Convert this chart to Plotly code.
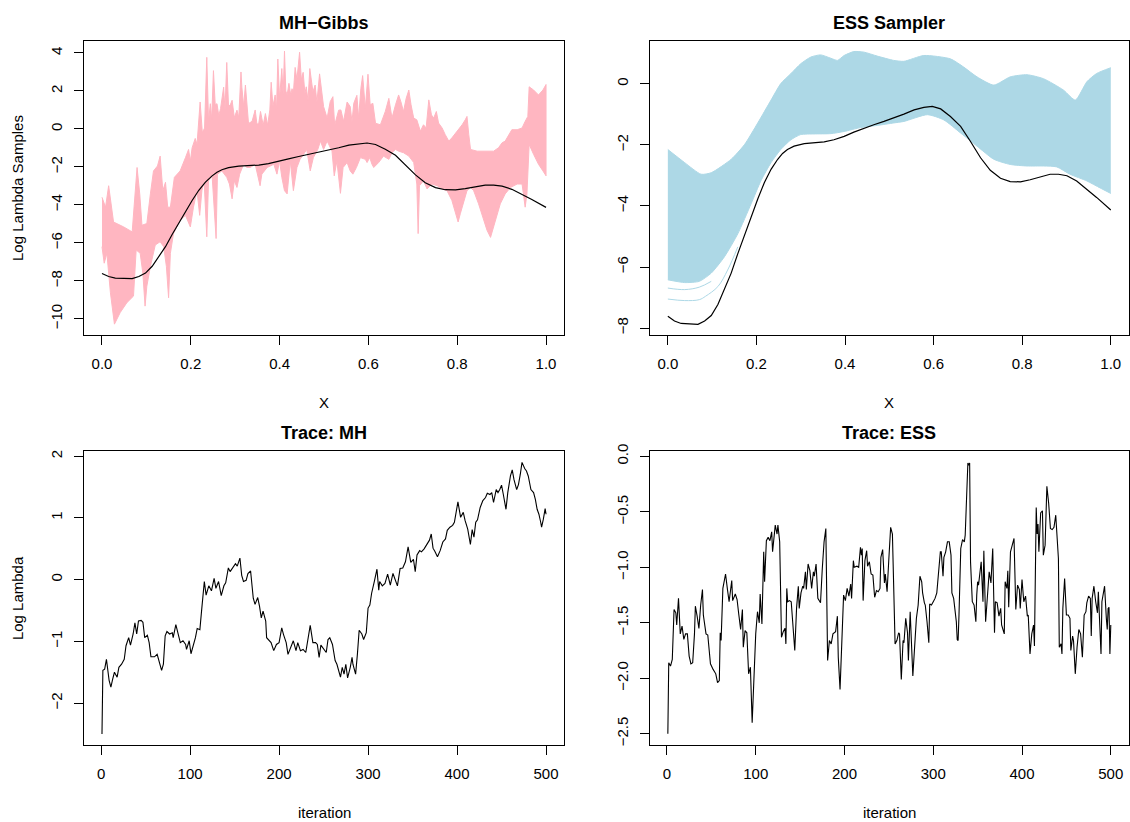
import plotly.graph_objects as go

# ---------------- data ----------------
# true log-intensity curve (black) on [0, 1]
true_x = [0.000, 0.015, 0.030, 0.049, 0.068, 0.083, 0.098, 0.113, 0.128, 0.143, 0.158, 0.173,
          0.188, 0.203, 0.218, 0.233, 0.248, 0.259, 0.270, 0.285, 0.308, 0.330, 0.353, 0.375,
          0.398, 0.420, 0.443, 0.465, 0.488, 0.511, 0.533, 0.556, 0.578, 0.597, 0.616, 0.638,
          0.661, 0.683, 0.706, 0.728, 0.751, 0.773, 0.796, 0.818, 0.841, 0.863, 0.882, 0.901,
          0.923, 0.946, 0.968, 1.000]
true_y = [-7.61, -7.77, -7.85, -7.87, -7.88, -7.77, -7.59, -7.23, -6.74, -6.20, -5.56, -4.96,
          -4.31, -3.77, -3.23, -2.80, -2.47, -2.28, -2.15, -2.04, -1.96, -1.93, -1.90, -1.83,
          -1.72, -1.58, -1.45, -1.34, -1.23, -1.12, -0.99, -0.85, -0.77, -0.74, -0.82, -1.07,
          -1.39, -1.88, -2.42, -2.83, -3.09, -3.20, -3.21, -3.14, -3.04, -2.96, -2.96, -3.01,
          -3.18, -3.45, -3.72, -4.13]

# MH-Gibbs sample band: upper and lower envelopes
mh_up_x = [0.000, 0.008, 0.015, 0.022, 0.026, 0.049, 0.068, 0.079, 0.085, 0.090, 0.101, 0.109,
           0.116, 0.125, 0.131, 0.137, 0.143, 0.148, 0.154, 0.163, 0.176, 0.188, 0.195, 0.199,
           0.203, 0.210, 0.214, 0.221, 0.226, 0.231, 0.236, 0.240, 0.244, 0.247, 0.251, 0.255,
           0.259, 0.263, 0.267, 0.274, 0.277, 0.281, 0.285, 0.289, 0.293, 0.298, 0.304, 0.308,
           0.313, 0.315, 0.319, 0.323, 0.327, 0.330, 0.338, 0.345, 0.349, 0.353, 0.357, 0.363,
           0.368, 0.373, 0.378, 0.381, 0.385, 0.390, 0.393, 0.396, 0.400, 0.402, 0.405, 0.408,
           0.411, 0.414, 0.417, 0.421, 0.425, 0.428, 0.431, 0.435, 0.439, 0.445, 0.449, 0.453,
           0.457, 0.460, 0.464, 0.468, 0.471, 0.475, 0.480, 0.484, 0.490, 0.499, 0.507, 0.514,
           0.520, 0.524, 0.533, 0.538, 0.544, 0.552, 0.559, 0.563, 0.567, 0.574, 0.578, 0.583,
           0.587, 0.593, 0.599, 0.604, 0.610, 0.616, 0.627,
           0.638, 0.646, 0.653, 0.661, 0.668, 0.673, 0.679, 0.685, 0.691, 0.696, 0.702, 0.709,
           0.717, 0.724, 0.730, 0.736, 0.742, 0.747, 0.753, 0.758, 0.766, 0.773, 0.781, 0.788,
           0.800, 0.811, 0.818, 0.822, 0.826, 0.830, 0.845, 0.867, 0.882, 0.893, 0.901, 0.908,
           0.916, 0.923, 0.935, 0.946, 0.953, 0.959, 0.962, 0.972, 0.983, 0.993, 1.000]
mh_up_y = [-3.60, -4.12, -2.99, -4.12, -4.90, -5.16, -5.42, -2.03, -3.42, -5.07, -4.98, -3.42,
           -2.21, -1.95, -1.43, -3.25, -2.81, -4.12, -4.12, -2.55, -2.21, -1.51, -1.08, -1.69,
           -0.99, -0.50, -0.82, 1.42, -0.20, 0.05, 3.77, 0.40, 1.33, 0.50, 3.07, 1.27,
           1.33, 0.70, 1.07, 2.20, 1.00, 3.50, 1.20, 1.27, 1.51, 0.60, 0.99, 0.60,
           3.00, 2.20, 1.20, 2.31, 0.90, 0.29, 0.40, 1.00, 0.25, 0.29, 0.92, 0.20,
           0.81, 0.20, 1.00, 2.46, 1.20, 1.79, 1.00, 3.68, 1.61, 2.20, 3.18, 1.80,
           4.10, 2.00, 1.79, 2.40, 1.80, 2.12, 1.90, 3.24, 2.60, 4.04, 2.60, 2.98,
           1.87, 2.22, 1.50, 3.18, 2.72, 1.96, 2.31, 1.40, 2.90, 1.18, 0.57, 1.44,
           1.70, 0.21, 0.99, 1.00, 0.40, 1.42, 1.18, 0.38, 1.35, 1.77, 0.57, 2.13,
           2.81, 1.09, 2.88, 1.27, 1.35, 0.30, 0.22,
           0.92, 1.61, 0.57, 1.27, 1.79, 1.44, 0.92, 1.61, 2.05, 1.27, 0.57, 0.48,
           -0.12, 0.22, 0.05, 1.53, 0.74, 0.57, 0.92, 0.31, 0.05, -0.30, -0.64, -0.47,
           -0.12, 0.22, 0.48, 0.66, -0.30, -1.08, -1.17, -1.17, -1.17, -0.99, -0.73, -0.64,
           -0.30, -0.04, -0.04, 0.05, 0.40, 0.66, 2.22, 2.05, 1.79, 2.05, 2.34]
mh_lo_x = [0.000, 0.005, 0.011, 0.019, 0.028, 0.041, 0.056, 0.071, 0.077, 0.086, 0.092, 0.097,
           0.101, 0.109, 0.120, 0.131, 0.139, 0.145, 0.150, 0.154, 0.161, 0.176, 0.188, 0.199,
           0.206, 0.214, 0.220, 0.225, 0.230, 0.236, 0.240, 0.248, 0.251, 0.257, 0.260, 0.270,
           0.281, 0.287, 0.293, 0.298, 0.304, 0.310, 0.319, 0.326, 0.334, 0.345, 0.356, 0.360,
           0.372, 0.387, 0.394, 0.400, 0.405, 0.411, 0.417, 0.424, 0.431, 0.439, 0.446, 0.454,
           0.461, 0.469, 0.476, 0.486, 0.492, 0.499, 0.507, 0.518, 0.523, 0.529, 0.537, 0.543,
           0.552, 0.559, 0.565, 0.573, 0.582, 0.593, 0.597, 0.603, 0.608, 0.612, 0.623, 0.634,
           0.646, 0.653, 0.661, 0.668, 0.679, 0.691, 0.702, 0.709, 0.712, 0.715, 0.724, 0.732,
           0.743, 0.755, 0.766, 0.777, 0.788, 0.796, 0.802, 0.807, 0.815, 0.822, 0.830, 0.837,
           0.848, 0.860, 0.867, 0.875, 0.882, 0.890, 0.897, 0.908, 0.920, 0.935, 0.946, 0.953,
           0.957, 0.962, 0.972, 0.983, 0.993, 1.000]
mh_lo_y = [-6.20, -7.07, -6.55, -8.63, -10.28, -9.67, -9.15, -8.80, -6.37, -6.55, -7.59, -9.33,
           -8.28, -7.24, -6.11, -5.94, -6.20, -7.24, -8.89, -6.55, -5.51, -4.81, -4.55, -5.16,
           -4.12, -3.25, -4.55, -3.25, -2.73, -5.68, -2.73, -2.47, -3.25, -5.77, -2.38, -2.21,
           -2.55, -2.90, -3.68, -2.73, -3.08, -2.38, -1.86, -2.03, -2.03, -1.86, -2.99, -2.38,
           -2.03, -1.86, -2.38, -1.69, -2.55, -3.25, -3.42, -1.69, -3.25, -2.03, -1.60, -1.34,
           -1.08, -2.21, -1.51, -1.08, -0.64, -1.08, -0.64, -1.17, -2.47, -1.69, -3.39, -2.03,
           -1.77, -2.21, -2.38, -2.03, -1.51, -1.60, -1.77, -1.51, -1.86, -2.03, -1.77, -1.43,
           -1.60, -1.25, -1.08, -1.17, -1.25, -1.43, -1.77, -2.90, -5.51, -2.99, -2.73, -3.16,
           -2.90, -2.99, -3.16, -3.25, -3.77, -4.38, -4.90, -4.46, -3.77, -3.25, -3.08, -3.25,
           -3.94, -4.81, -5.33, -5.71, -5.25, -4.55, -3.94, -3.42, -3.08, -2.90, -2.90, -4.12,
           -3.42, -0.82, -1.34, -1.86, -2.21, -2.47]

# ESS sample band: upper and lower envelopes, plus two low-lying sample lines
ess_up_x = [0.000, 0.038, 0.075, 0.098, 0.143, 0.173, 0.203, 0.233, 0.255, 0.278, 0.300, 0.323,
            0.345, 0.368, 0.383, 0.398, 0.420, 0.443, 0.473, 0.510, 0.533, 0.578, 0.638, 0.668,
            0.698, 0.736, 0.773, 0.811, 0.848, 0.893, 0.920, 0.946, 0.968, 1.000]
ess_up_y = [-2.15, -2.58, -2.96, -2.91, -2.47, -1.99, -1.28, -0.53, 0.01, 0.34, 0.66, 0.88,
            0.95, 0.84, 0.77, 0.93, 1.06, 1.04, 0.91, 0.77, 0.74, 0.93, 0.82, 0.55,
            0.23, -0.04, 0.23, 0.30, 0.17, -0.20, -0.53, 0.07, 0.34, 0.53]
ess_lo_x = [0.000, 0.038, 0.071, 0.098, 0.128, 0.158, 0.188, 0.210, 0.233, 0.255, 0.278, 0.300,
            0.330, 0.368, 0.398, 0.435, 0.473, 0.510, 0.533, 0.586, 0.623, 0.661, 0.698, 0.736,
            0.773, 0.811, 0.848, 0.878, 0.908, 0.946, 0.976, 1.000]
ess_lo_y = [-6.42, -6.51, -6.47, -6.20, -5.66, -4.91, -3.93, -3.18, -2.58, -2.15, -1.83, -1.66,
            -1.64, -1.63, -1.56, -1.43, -1.36, -1.28, -1.23, -1.01, -1.18, -1.61, -2.04, -2.47,
            -2.64, -2.69, -2.69, -2.72, -2.96, -3.18, -3.41, -3.59]
ess_line1_x = [0.000, 0.038, 0.071, 0.098]
ess_line1_y = [-6.69, -6.74, -6.66, -6.47]
ess_line2_x = [0.000, 0.038, 0.071, 0.085, 0.113, 0.135, 0.158]
ess_line2_y = [-7.05, -7.10, -7.07, -6.96, -6.64, -6.10, -5.34]

# Trace of MH sampler
mh_iter = [1, 2, 4, 6, 9, 11, 13, 15, 18, 20, 23, 26, 28, 31, 33, 36, 38, 40, 42, 45, 47, 49,
           52, 54, 56, 60, 63, 65, 68, 70, 72, 74, 77, 80, 81, 84, 86, 89, 92, 95, 96, 99, 101,
           104, 106, 108, 111, 113, 116, 118, 121, 124, 127, 129, 132, 135, 138, 140, 143, 145,
           148, 151, 153, 156, 158, 160, 163, 165, 168, 171, 173, 176, 178, 180, 182, 185, 186,
           189, 191, 194, 197, 200, 203, 205, 208, 210, 213, 216, 219, 221, 224, 227, 230, 233,
           235, 238, 241, 243, 245, 247, 250, 253, 255, 257, 260, 263, 265, 267, 269, 271, 273,
           275, 277, 280, 282, 283, 286, 288, 290, 293, 295, 298, 300, 302, 304, 307, 310, 312,
           313, 316, 319, 322, 325, 328, 330, 333, 336, 339, 342, 345, 348, 351, 353, 355, 358,
           360, 363, 366, 369, 371, 373, 375, 378, 381, 384, 387, 389, 392, 395, 397, 399, 401,
           404, 407, 409, 412, 415, 417, 419, 421, 423, 426, 429, 432, 434, 437, 439, 441, 444,
           446, 448, 450, 452, 455, 457, 460, 462, 464, 467, 469, 471, 473, 476, 478, 480, 483,
           486, 488, 490, 492, 494, 495, 497, 499, 500]
mh_trace = [-2.50, -1.47, -1.45, -1.29, -1.63, -1.74, -1.61, -1.50, -1.58, -1.42, -1.37, -1.29,
            -1.07, -0.94, -1.06, -0.88, -0.70, -0.88, -0.67, -0.66, -0.69, -0.94, -0.90, -1.02,
            -1.25, -1.25, -1.21, -1.31, -1.47, -1.37, -0.91, -0.84, -0.88, -0.86, -0.94, -0.73,
            -0.86, -1.02, -0.99, -1.05, -1.13, -0.99, -1.20, -1.05, -0.94, -0.79, -0.81, -0.49,
            -0.03, -0.25, -0.10, -0.18, 0.02, -0.14, -0.03, -0.26, -0.10, -0.05, 0.19, 0.13,
            0.19, 0.26, 0.22, 0.35, 0.07, -0.03, -0.01, 0.10, 0.14, -0.30, -0.40, -0.29, -0.43,
            -0.62, -0.51, -0.67, -0.94, -0.99, -1.02, -1.15, -1.05, -1.02, -0.78, -0.89, -1.02,
            -1.21, -1.10, -0.99, -1.15, -1.02, -1.15, -1.13, -1.18, -0.88, -0.74, -1.02, -1.02,
            -1.05, -1.26, -1.06, -1.13, -1.18, -0.97, -0.94, -1.05, -1.31, -1.37, -1.47, -1.58,
            -1.42, -1.53, -1.37, -1.59, -1.42, -1.26, -1.37, -1.53, -1.21, -0.82, -0.88, -0.97,
            -0.86, -0.46, -0.41, -0.22, -0.03, 0.17, -0.17, -0.03, -0.10, -0.06, 0.09, -0.09,
            0.10, 0.02, -0.10, 0.18, 0.19, 0.29, 0.53, 0.28, 0.33, 0.13, 0.40, 0.47, 0.45, 0.50,
            0.58, 0.64, 0.74, 0.51, 0.46, 0.37, 0.47, 0.61, 0.66, 0.80, 0.85, 0.88, 0.93, 1.09,
            1.26, 1.01, 1.09, 0.96, 0.82, 0.57, 0.81, 0.69, 0.93, 0.97, 1.17, 1.28, 1.33, 1.40,
            1.38, 1.41, 1.25, 1.46, 1.41, 1.46, 1.53, 1.38, 1.14, 1.41, 1.68, 1.78, 1.62, 1.46,
            1.54, 1.70, 1.90, 1.80, 1.76, 1.68, 1.46, 1.41, 1.30, 1.14, 1.06, 0.93, 0.85, 0.98,
            1.15, 1.06]

# Trace of ESS sampler
ess_iter = [1, 2, 4, 6, 8, 10, 11, 13, 15, 17, 19, 21, 23, 25, 27, 29, 31, 32, 34, 36, 38, 40,
            41, 44, 46, 49, 52, 55, 57, 59, 60, 61, 63, 66, 68, 70, 73, 74, 77, 79, 81, 83, 85,
            86, 88, 90, 92, 94, 96, 98, 100, 102, 104, 105, 107, 109, 110, 112, 114, 116, 118,
            119, 121, 122, 124, 125, 127, 129, 131, 133, 134, 135, 136, 138, 140, 142, 144, 146,
            148, 149, 151, 153, 154, 156, 157, 159, 161, 163, 165, 166, 168, 170, 173, 175, 177,
            179, 180, 181, 183, 185, 187, 190, 192, 193, 195, 197, 199, 201, 203, 205, 207, 208,
            210, 211, 214, 216, 218, 219, 220, 221, 223, 225, 226, 228, 230, 232, 234, 236, 238,
            240, 241, 243, 245, 246, 248, 250, 252, 254, 256, 257, 259, 261, 262, 264, 266, 267,
            269, 271, 272, 274, 277, 279, 281, 283, 285, 287, 288, 290, 291, 293, 295, 296, 298,
            300, 302, 304, 306, 308, 309, 311, 312, 314, 316, 318, 320, 321, 323, 326, 327, 328,
            329, 331, 333, 335, 336, 337, 339, 340, 341, 342, 344, 346, 348, 349, 350, 351, 353,
            354, 356, 357, 359, 361, 363, 365, 367, 369, 370, 372, 374, 376, 377, 380, 381, 383,
            384, 385, 387, 389, 391, 393, 395, 397, 398, 400, 402, 404, 406, 407, 409, 411, 413,
            414, 416, 417, 418, 419, 421, 423, 424, 426, 427, 428, 430, 432, 434, 436, 438, 439,
            441, 442, 444, 445, 446, 448, 450, 452, 454, 455, 457, 458, 460, 462, 464, 466, 468,
            470, 472, 473, 475, 477, 478, 479, 481, 483, 485, 486, 488, 489, 490, 492, 493, 495,
            496, 497, 498, 499, 500]
ess_trace = [-2.50, -1.86, -1.89, -1.83, -1.38, -1.41, -1.52, -1.28, -1.60, -1.53, -1.65, -1.60,
             -1.60, -1.80, -1.87, -1.86, -1.60, -1.35, -1.44, -1.55, -1.34, -1.20, -1.43, -1.60,
             -1.61, -1.87, -1.92, -1.96, -2.04, -2.02, -1.59, -1.66, -1.19, -1.06, -1.19, -1.31,
             -1.12, -1.30, -1.24, -1.29, -1.43, -1.56, -1.38, -1.72, -1.57, -1.59, -1.96, -1.90,
             -2.40, -2.05, -1.60, -1.40, -1.50, -1.24, -1.51, -0.86, -1.13, -0.76, -0.73, -0.76,
             -0.68, -0.86, -0.68, -0.62, -0.70, -0.62, -0.77, -1.63, -1.58, -1.55, -1.69, -1.19,
             -1.31, -1.30, -1.31, -1.55, -1.75, -1.37, -1.17, -1.37, -1.23, -1.17, -1.19, -1.04,
             -1.20, -0.97, -1.03, -1.19, -1.04, -1.08, -0.97, -1.28, -1.32, -1.01, -0.77, -0.65,
             -1.32, -1.84, -1.66, -1.69, -1.60, -1.58, -1.44, -1.81, -2.10, -1.57, -1.25, -1.30,
             -1.19, -1.26, -1.15, -1.28, -0.94, -1.00, -0.99, -1.00, -0.82, -0.89, -0.83, -1.30,
             -0.94, -0.85, -0.99, -0.95, -1.06, -1.07, -1.27, -1.21, -1.22, -1.19, -0.91, -0.84,
             -1.14, -1.06, -1.22, -0.92, -0.64, -0.70, -1.60, -1.69, -1.66, -1.59, -1.60, -2.01,
             -1.66, -1.68, -1.46, -1.59, -1.84, -1.40, -1.98, -1.66, -1.46, -1.34, -1.08, -1.13,
             -1.23, -1.32, -1.34, -1.49, -1.68, -1.33, -1.34, -1.31, -1.28, -1.23, -1.01, -0.86,
             -0.86, -1.08, -0.91, -0.86, -0.77, -0.77, -0.89, -1.23, -1.28, -1.49, -1.65, -1.66,
             -1.43, -0.83, -0.75, -0.77, -0.71, -0.54, -0.06, -0.08, -0.06, -0.95, -1.31, -1.34,
             -1.49, -1.25, -1.13, -1.16, -1.01, -0.95, -1.31, -0.85, -1.49, -1.25, -1.04, -1.14,
             -0.83, -1.59, -1.31, -1.32, -1.44, -1.37, -1.52, -1.60, -1.13, -1.19, -1.03, -1.36,
             -0.86, -0.80, -0.74, -1.38, -1.16, -1.20, -1.37, -1.11, -1.31, -1.26, -1.44, -1.43,
             -1.78, -1.60, -1.52, -1.71, -0.46, -0.70, -0.61, -0.86, -0.51, -0.49, -0.89, -0.80,
             -0.48, -0.27, -0.42, -0.65, -0.66, -0.64, -0.53, -0.71, -0.92, -1.72, -1.69, -1.78,
             -1.37, -1.10, -1.43, -1.43, -1.46, -1.75, -1.62, -1.66, -1.96, -1.72, -1.56, -1.60,
             -1.81, -1.43, -1.40, -1.32, -1.26, -1.28, -1.62, -1.28, -1.17, -1.31, -1.41, -1.22,
             -1.66, -1.78, -1.31, -1.23, -1.17, -1.46, -1.56, -1.37, -1.36, -1.78, -1.52]

x_ticks_top = [0.0, 0.2, 0.4, 0.6, 0.8, 1.0]
y_ticks_mh = [-10, -8, -6, -4, -2, 0, 2, 4]
y_ticks_ess = [-8, -6, -4, -2, 0]
x_ticks_iter = [0, 100, 200, 300, 400, 500]
y_ticks_trace_mh = [-2, -1, 0, 1, 2]
y_ticks_trace_ess = [-2.5, -2.0, -1.5, -1.0, -0.5, 0.0]

# ---------------- figure ----------------
W, H = 1130, 822
PINK = "#FFB6C1"
BLUE = "#ADD8E6"
FONT = "Liberation Sans, Arial, Helvetica, sans-serif"


def fx(p):
    return p / W


def fy(p):
    return 1 - p / H


fig = go.Figure()

# MH band
fig.add_trace(go.Scatter(x=mh_up_x + mh_lo_x[::-1], y=mh_up_y + mh_lo_y[::-1],
                         fill="toself", fillcolor=PINK, mode="lines",
                         line=dict(color=PINK, width=1), xaxis="x", yaxis="y",
                         hoverinfo="skip", showlegend=False))
fig.add_trace(go.Scatter(x=true_x, y=true_y, mode="lines", line=dict(color="black", width=1.2),
                         xaxis="x", yaxis="y", showlegend=False))

# ESS band (lower edge, then upper edge filled to it)
fig.add_trace(go.Scatter(x=ess_lo_x, y=ess_lo_y, mode="lines",
                         line=dict(color=BLUE, width=1, shape="spline", smoothing=0.6),
                         xaxis="x2", yaxis="y2", hoverinfo="skip", showlegend=False))
fig.add_trace(go.Scatter(x=ess_up_x, y=ess_up_y, mode="lines", fill="tonexty", fillcolor=BLUE,
                         line=dict(color=BLUE, width=1, shape="spline", smoothing=0.6),
                         xaxis="x2", yaxis="y2", hoverinfo="skip", showlegend=False))
for lx, ly in [(ess_line1_x, ess_line1_y), (ess_line2_x, ess_line2_y)]:
    fig.add_trace(go.Scatter(x=lx, y=ly, mode="lines",
                             line=dict(color=BLUE, width=1, shape="spline"),
                             xaxis="x2", yaxis="y2", showlegend=False))
fig.add_trace(go.Scatter(x=true_x, y=true_y, mode="lines", line=dict(color="black", width=1.2),
                         xaxis="x2", yaxis="y2", showlegend=False))

# traces
fig.add_trace(go.Scatter(x=mh_iter, y=mh_trace, mode="lines", line=dict(color="black", width=1.1),
                         xaxis="x3", yaxis="y3", showlegend=False))
fig.add_trace(go.Scatter(x=ess_iter, y=ess_trace, mode="lines", line=dict(color="black", width=1.1),
                         xaxis="x4", yaxis="y4", showlegend=False))

L1, R1 = 84.3, 564.3
L2, R2 = 650.7, 1129.5
T1, B1 = 33.0, 331.0
T2, B2 = 448.3, 745.0


def ax(domain, rng, tickvals, fmt, anchor, ytick=False):
    d = dict(domain=domain, range=rng, tickvals=tickvals, tickformat=fmt, anchor=anchor,
             showline=True, linecolor="black", linewidth=1, mirror=True,
             ticks="outside", ticklen=9, tickwidth=1, tickcolor="black",
             showgrid=False, zeroline=False, ticklabelstandoff=6,
             tickfont=dict(family=FONT, size=15, color="black"))
    if ytick:
        d["tickangle"] = -90
    return d


fig.update_layout(
    width=W, height=H, margin=dict(l=0, r=0, t=0, b=0),
    paper_bgcolor="white", plot_bgcolor="white",
    font=dict(family=FONT, size=15, color="black"),
    xaxis=ax([fx(L1), fx(R1)], [-0.04, 1.04], x_ticks_top, ".1f", "y"),
    yaxis=ax([fy(B1), fy(T1)], [-10.87, 4.65], y_ticks_mh, "d", "x", True),
    xaxis2=ax([fx(L2), fx(R2)], [-0.04, 1.04], x_ticks_top, ".1f", "y2"),
    yaxis2=ax([fy(B1), fy(T1)], [-8.24, 1.417], y_ticks_ess, "d", "x2", True),
    xaxis3=ax([fx(L1), fx(R1)], [-18.96, 519.96], x_ticks_iter, "d", "y3"),
    yaxis3=ax([fy(B2), fy(T2)], [-2.676, 2.078], y_ticks_trace_mh, "d", "x3", True),
    xaxis4=ax([fx(L2), fx(R2)], [-18.96, 519.96], x_ticks_iter, "d", "y4"),
    yaxis4=ax([fy(B2), fy(T2)], [-2.6, 0.045], y_ticks_trace_ess, ".1f", "x4", True),
)

ann = []


def add_text(text, xp, yp, size=15, bold=False, angle=0):
    ann.append(dict(text=("<b>%s</b>" % text) if bold else text, x=fx(xp), y=fy(yp),
                    xref="paper", yref="paper", xanchor="center", yanchor="middle",
                    showarrow=False, textangle=angle,
                    font=dict(family=FONT, size=size, color="black")))


c1 = (L1 + R1) / 2
c2 = (L2 + R2) / 2
add_text("MH\u2212Gibbs", c1, 15, 18, True)
add_text("ESS Sampler", c2, 15, 18, True)
add_text("Trace: MH", c1, 430, 18, True)
add_text("Trace: ESS", c2, 430, 18, True)
add_text("X", c1, 399)
add_text("X", c2, 399)
add_text("iteration", c1, 813)
add_text("iteration", c2, 813)
add_text("Log Lambda Samples", 17, (T1 + B1) / 2, angle=-90)
add_text("Log Lambda", 17, (T2 + B2) / 2, angle=-90)
fig.update_layout(annotations=ann)

fig.write_html("out.html", config={"displayModeBar": False},
               post_script="document.body.style.margin='0';document.body.style.padding='0';"
                           "document.documentElement.style.overflow='hidden';")
